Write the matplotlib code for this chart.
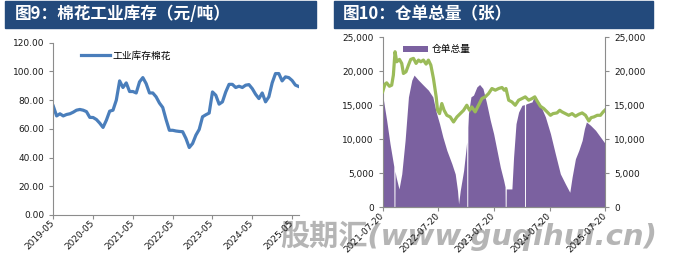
import matplotlib
matplotlib.use('Agg')
import matplotlib.pyplot as plt
import matplotlib.dates as mdates
from matplotlib.patches import Rectangle
from matplotlib.ticker import FuncFormatter
import pandas as pd

# 图9 data: monthly, 2019-05 .. 2025-07
cotton_stock = [75.8, 69.0, 70.5, 69.0, 70.0, 70.5, 71.6, 73.0, 73.5, 73.0, 72.0, 68.0,
                67.9, 66.5, 64.0, 61.0, 66.0, 72.3, 73.0, 80.0, 93.4, 88.8, 92.0, 86.0,
                86.0, 85.0, 92.7, 95.7, 91.5, 85.0, 85.0, 82.3, 78.0, 74.9, 66.5, 59.0,
                59.0, 58.5, 58.2, 58.0, 53.3, 47.0, 49.8, 55.6, 59.6, 68.4, 69.8, 71.0,
                85.7, 83.4, 77.2, 78.8, 85.7, 91.0, 91.0, 88.8, 89.7, 88.8, 90.4, 90.8,
                88.0, 84.1, 81.1, 85.0, 78.8, 82.3, 92.0, 98.5, 98.5, 93.4, 96.2, 95.7,
                93.7, 90.5, 89.5]
left_ticks = ['2019-05', '2020-05', '2021-05', '2022-05', '2023-05', '2024-05', '2025-05']

# 图10 data: warehouse receipts (area)
receipt_dates = ['2021-07-20', '2021-08-15', '2021-09-06', '2021-09-28', '2021-10-01',
                 '2021-10-02', '2021-10-08', '2021-10-09', '2021-10-16', '2021-11-04',
                 '2021-11-22', '2021-12-14', '2022-01-05', '2022-01-27', '2022-02-11',
                 '2022-03-12', '2022-04-13', '2022-05-16', '2022-06-14', '2022-07-06',
                 '2022-07-28', '2022-08-19', '2022-09-14', '2022-10-17', '2022-11-08',
                 '2022-11-23', '2022-11-30', '2022-12-11', '2023-01-02', '2023-01-19',
                 '2023-01-22', '2023-01-23', '2023-01-29', '2023-01-30', '2023-02-03',
                 '2023-02-19', '2023-03-08', '2023-03-30', '2023-04-17', '2023-05-09',
                 '2023-05-31', '2023-06-26', '2023-07-18', '2023-08-09', '2023-08-31',
                 '2023-09-22', '2023-10-01', '2023-10-02', '2023-10-08', '2023-10-09',
                 '2023-11-15', '2023-11-26', '2023-12-12', '2023-12-29', '2024-01-20',
                 '2024-02-05', '2024-02-06', '2024-02-12', '2024-02-13', '2024-02-22',
                 '2024-03-26', '2024-04-13', '2024-05-20', '2024-06-22', '2024-07-25',
                 '2024-08-26', '2024-09-28', '2024-10-31', '2024-11-29', '2024-12-14',
                 '2025-01-05', '2025-01-27', '2025-02-18', '2025-03-05', '2025-03-18',
                 '2025-04-14', '2025-05-17', '2025-06-18', '2025-07-20']
receipt_vals = [16500, 12800, 9350, 6400, 6000,
                0, 0, 5300, 4430, 2700,
                4900, 9840, 16240, 18700, 19440,
                18700, 17960, 17220, 16240, 14000,
                12300, 10330, 8370, 6400, 4900,
                2460, 500, 2460, 5400, 8860,
                9600, 0, 0, 11800, 13780,
                16240, 16500, 17700, 18060, 17470,
                15500, 12800, 10830, 8370, 5900,
                3940, 3000, 0, 0, 2700,
                2700, 7380, 12300, 14000, 15000,
                15100, 0, 0, 15150, 15250,
                15500, 16500, 15000, 13290, 10830,
                7870, 4920, 3440, 2210, 4430,
                7140, 8370, 9840, 11560, 12550,
                12060, 11320, 10330, 9350]

# 图10 data: second series (line, right axis)
line_dates = ['2021-07-20', '2021-08-04', '2021-08-15', '2021-09-02', '2021-09-17', '2021-09-28',
              '2021-10-09', '2021-10-20', '2021-11-07', '2021-11-22', '2021-12-03', '2021-12-20',
              '2022-01-05', '2022-01-20', '2022-02-07', '2022-02-24', '2022-03-12', '2022-03-27',
              '2022-04-13', '2022-05-01', '2022-05-16', '2022-06-01', '2022-06-18', '2022-07-06',
              '2022-07-15', '2022-07-28', '2022-08-12', '2022-08-27', '2022-09-14', '2022-10-06',
              '2022-10-28', '2022-11-19', '2022-12-11', '2023-01-02', '2023-01-23', '2023-02-10',
              '2023-02-25', '2023-03-19', '2023-04-10', '2023-05-02', '2023-05-24', '2023-06-15',
              '2023-07-07', '2023-07-29', '2023-08-20', '2023-09-11', '2023-09-26', '2023-10-07',
              '2023-10-25', '2023-11-15', '2023-12-07', '2023-12-29', '2024-01-20', '2024-02-11',
              '2024-03-04', '2024-03-26', '2024-04-13', '2024-04-28', '2024-05-20', '2024-06-11',
              '2024-07-03', '2024-07-25', '2024-08-11', '2024-09-06', '2024-09-24', '2024-10-09',
              '2024-10-31', '2024-11-22', '2024-12-14', '2025-01-05', '2025-01-27', '2025-02-18',
              '2025-03-12', '2025-04-03', '2025-04-18', '2025-05-06', '2025-05-28', '2025-06-18',
              '2025-07-06', '2025-07-17']
line_vals = [17000, 18110, 18300, 17800, 17960, 19440,
             22880, 21400, 21750, 21160, 19680, 19930,
             20910, 21750, 21900, 21160, 21650, 21400,
             21650, 21060, 21650, 20910, 18950, 16240,
             14270, 13780, 15260, 14270, 13530, 13290,
             12550, 13290, 13780, 14270, 15010, 14270,
             14760, 14030, 15010, 15990, 16240, 16730,
             17470, 17220, 17470, 17620, 17220, 17470,
             15750, 15500, 15010, 15750, 15990, 16240,
             15750, 15990, 16240, 15650, 14860, 14520,
             14030, 13530, 13780, 13880, 14270, 14030,
             13780, 13530, 13780, 13390, 13680, 13880,
             13530, 12700, 13190, 13290, 13530, 13530,
             14030, 14270]
right_ticks = ['2021-07-20', '2022-07-20', '2023-07-20', '2024-07-20', '2025-07-20']

W, H = 679, 268
fig = plt.figure(figsize=(W / 100, H / 100), dpi=100)
cjk = ['Noto Sans CJK SC', 'DejaVu Sans']
navy = '#234A7C'
spine_c = '#8C8C8C'
tick_kw = dict(labelsize=6.5, colors=spine_c, labelcolor='#1a1a1a', length=3, width=0.8)


def fx(px):
    return px / W


def fy(py):
    return 1 - py / H


# title bars
for x0, x1, title, tx in [(5, 316, '图9：棉花工业库存（元/吨）', 15),
                          (334, 653, '图10：仓单总量（张）', 343)]:
    fig.patches.append(Rectangle((fx(x0), fy(28)), fx(x1 - x0), 27 / H,
                                 transform=fig.transFigure, color=navy, zorder=0))
    fig.text(fx(tx), fy(14.5), title, color='white', fontsize=12, fontweight='bold',
             family=cjk, va='center', ha='left')

# left chart
ax = fig.add_axes([fx(53.3), fy(215), fx(298.7 - 53.3), (215 - 42.7) / H])
ax.plot(range(len(cotton_stock)), cotton_stock, color='#4A7EBB', lw=2.3,
        solid_joinstyle='round', label='工业库存棉花')
ax.set_xlim(0, 74)
ax.set_ylim(0, 120)
ax.set_yticks(range(0, 121, 20))
ax.yaxis.set_major_formatter(FuncFormatter(lambda v, p: f'{v:.2f}'))
ax.set_xticks(range(0, 73, 12))
ax.set_xticklabels(left_ticks, rotation=45, ha='right', va='center', rotation_mode='anchor')
for s in ['top', 'right']:
    ax.spines[s].set_visible(False)
for s in ['left', 'bottom']:
    ax.spines[s].set_color(spine_c)
ax.tick_params(**tick_kw)
ax.tick_params(axis='x', pad=2)
leg = ax.legend(loc='center left', bbox_to_anchor=(fx(80.7), fy(55.7)),
                bbox_transform=fig.transFigure, frameon=False, borderpad=0,
                borderaxespad=0, handlelength=3.0, handletextpad=0.3,
                prop={'family': cjk, 'size': 7})

# right chart
ax1 = fig.add_axes([fx(382.7), fy(207.3), fx(605.3 - 382.7), (207.3 - 37.3) / H])
rd = mdates.date2num(pd.to_datetime(receipt_dates))
ld = mdates.date2num(pd.to_datetime(line_dates))
ax1.fill_between(rd, receipt_vals, color='#7B61A0', lw=0, label='仓单总量')
ax2 = ax1.twinx()
ax2.plot(ld, line_vals, color='#9BBB59', lw=2.3, solid_joinstyle='round')
x_lo, x_hi = mdates.date2num(pd.to_datetime(['2021-07-20', '2025-07-20']))
for a in (ax1, ax2):
    a.set_xlim(x_lo, x_hi)
    a.set_ylim(0, 25000)
    a.set_yticks(range(0, 25001, 5000))
    a.yaxis.set_major_formatter(FuncFormatter(lambda v, p: f'{int(v):,}'))
    a.spines['top'].set_visible(False)
    for s in ['left', 'right', 'bottom']:
        a.spines[s].set_color(spine_c)
    a.tick_params(**tick_kw)
ax1.spines['right'].set_visible(False)
ax2.spines['left'].set_visible(False)
ax1.set_xticks(mdates.date2num(pd.to_datetime(right_ticks)))
ax1.set_xticklabels(right_ticks, rotation=45, ha='right', va='center', rotation_mode='anchor')
ax1.tick_params(axis='x', pad=2)
ax1.legend(loc='center left', bbox_to_anchor=(fx(402.7), fy(49.3)),
           bbox_transform=fig.transFigure, frameon=False, borderpad=0,
           borderaxespad=0, handlelength=2.63, handleheight=0.69, handletextpad=0.35,
           prop={'family': cjk, 'size': 7})

# watermark
fig.text(fx(280), fy(236), '股期汇(www.guqihui.cn)', fontsize=21, fontweight='bold',
         style='italic', color='#A8A8A8', alpha=0.85, family=['DejaVu Sans', 'Noto Sans CJK SC'],
         va='center', ha='left', zorder=-1)

fig.savefig('out.png', dpi=100)
